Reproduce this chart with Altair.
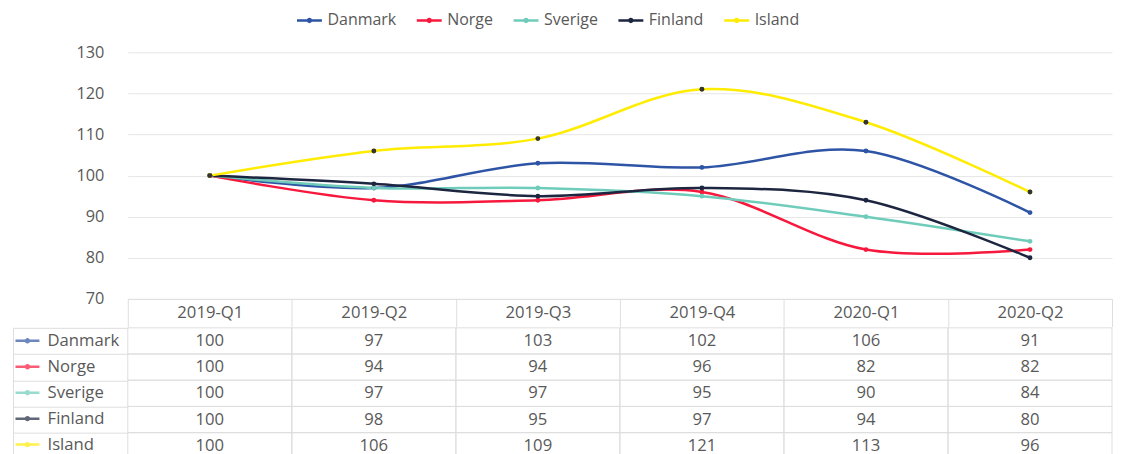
import altair as alt
import pandas as pd

quarters = ["2019-Q1", "2019-Q2", "2019-Q3", "2019-Q4", "2020-Q1", "2020-Q2"]
series = ["Danmark", "Norge", "Sverige", "Finland", "Island"]
danmark = [100, 97, 103, 102, 106, 91]
norge = [100, 94, 94, 96, 82, 82]
sverige = [100, 97, 97, 95, 90, 84]
finland = [100, 98, 95, 97, 94, 80]
island = [100, 106, 109, 121, 113, 96]
colors = ["#2e54a5", "#f7193d", "#6fccba", "#1d2640", "#ffec00"]
y_ticks = [70, 80, 90, 100, 110, 120, 130]

values = {"Danmark": danmark, "Norge": norge, "Sverige": sverige,
          "Finland": finland, "Island": island}
rows = []
for s in series:
    for q, v in zip(quarters, values[s]):
        rows.append({"series": s, "quarter": q, "value": v})
df = pd.DataFrame(rows)

TEXT = "#595959"
GRID = "#e6e6e6"
BORDER = "#dedede"
FONT = "Open Sans"
FS = 16.7
# legend key: a short line with a dot in the middle
TOP_SYMBOL = "M-2,0H2M-0.24,0A0.24,0.24 0 1,0 0.24,0A0.24,0.24 0 1,0 -0.24,0"
TAB_SYMBOL = "M-1,0H1M-0.12,0A0.12,0.12 0 1,0 0.12,0A0.12,0.12 0 1,0 -0.12,0"

color_scale = alt.Scale(domain=series, range=colors)
x_scale = alt.Scale(domain=quarters, paddingInner=0, paddingOuter=0)

# ---------- top: line chart ----------
x_top = alt.X(
    "quarter:N", sort=quarters, scale=x_scale,
    axis=alt.Axis(title=None, orient="bottom", domain=True, domainColor=BORDER,
                  ticks=True, tickBand="extent", tickSize=28, tickColor=BORDER,
                  labelFontSize=FS, labelColor=TEXT, labelFont=FONT,
                  labelBaseline="middle", labelPadding=-14, labelAngle=0, grid=False),
)
y_top = alt.Y(
    "value:Q", scale=alt.Scale(domain=[70, 130], nice=False, zero=False),
    axis=alt.Axis(values=y_ticks, title=None, domain=False, ticks=False,
                  labelFontSize=16.3, labelColor=TEXT, labelFont=FONT,
                  labelPadding=24, gridColor=GRID),
)
top_legend = alt.Legend(
    title=None, orient="none", legendX=174, legendY=-40, direction="horizontal",
    symbolType=TOP_SYMBOL, symbolSize=156, symbolStrokeWidth=2.5,
    labelFontSize=16, labelColor=TEXT, labelFont=FONT, labelOffset=10,
    columnPadding=15,
)

base = alt.Chart(df)
lines = base.mark_line(interpolate="cardinal", strokeWidth=2.5).encode(
    x=x_top, y=y_top,
    color=alt.Color("series:N", scale=color_scale, sort=series, legend=top_legend),
)
points = base.mark_circle(size=24, opacity=1).encode(
    x=x_top, y=y_top,
    color=alt.Color("series:N", scale=color_scale, sort=series, legend=top_legend),
)
island_pts = base.transform_filter("datum.series == 'Island'").mark_circle(
    size=24, opacity=1, color="#333333"
).encode(x=x_top, y=y_top)

top = alt.layer(lines, points, island_pts).properties(width=986, height=247)

# ---------- bottom: data table ----------
x_tab = alt.X("quarter:N", sort=quarters, scale=x_scale, axis=None)
y_scale = alt.Scale(domain=series, paddingInner=0, paddingOuter=0)
y_rows = alt.Y(
    "series:N", sort=series, scale=y_scale,
    axis=alt.Axis(values=series, title=None, labels=False, domain=False,
                  ticks=True, tickBand="extent", tickSize=115, tickColor=BORDER,
                  grid=False),
)
y_plain = alt.Y("series:N", sort=series, scale=y_scale, axis=None)
y_edge = alt.Y(
    "series:N", sort=series, scale=y_scale,
    axis=alt.Axis(orient="left", offset=115, title=None, labels=False, ticks=False,
                  domain=True, domainColor=BORDER, grid=False),
)
table_legend = alt.Legend(
    title=None, orient="none", legendX=-115, legendY=-0.5, direction="vertical",
    symbolType=TAB_SYMBOL, symbolSize=576, symbolStrokeWidth=2.5, symbolOffset=1,
    labelFontSize=FS, labelColor=TEXT, labelFont=FONT, labelOffset=6.6,
    rowPadding=3.0, padding=0,
)

cells = alt.Chart(df).mark_rect(fill="transparent", stroke=BORDER, strokeWidth=1).encode(
    x=x_tab, y=y_rows
)
texts = alt.Chart(df).mark_text(fontSize=FS, color=TEXT, font=FONT).encode(
    x=x_tab, y=y_plain, text="value:Q"
)
keys = alt.Chart(df).transform_filter("false").mark_point(filled=False).encode(
    x=x_tab, y=y_edge,
    color=alt.Color("series:N", scale=color_scale, sort=series, legend=table_legend),
)
table = (
    alt.layer(cells, texts, keys)
    .resolve_scale(y="independent")
    .properties(width=986, height=131.25)
)

chart = (
    alt.vconcat(top, table, spacing=-1.5)
    .resolve_legend(color="independent")
    .properties(padding={"left": 4, "top": 3, "right": 0, "bottom": 0})
    .configure(font=FONT)
    .configure_view(stroke="transparent")
)

chart.save("out.html", embed_options={"renderer": "svg", "actions": False})
